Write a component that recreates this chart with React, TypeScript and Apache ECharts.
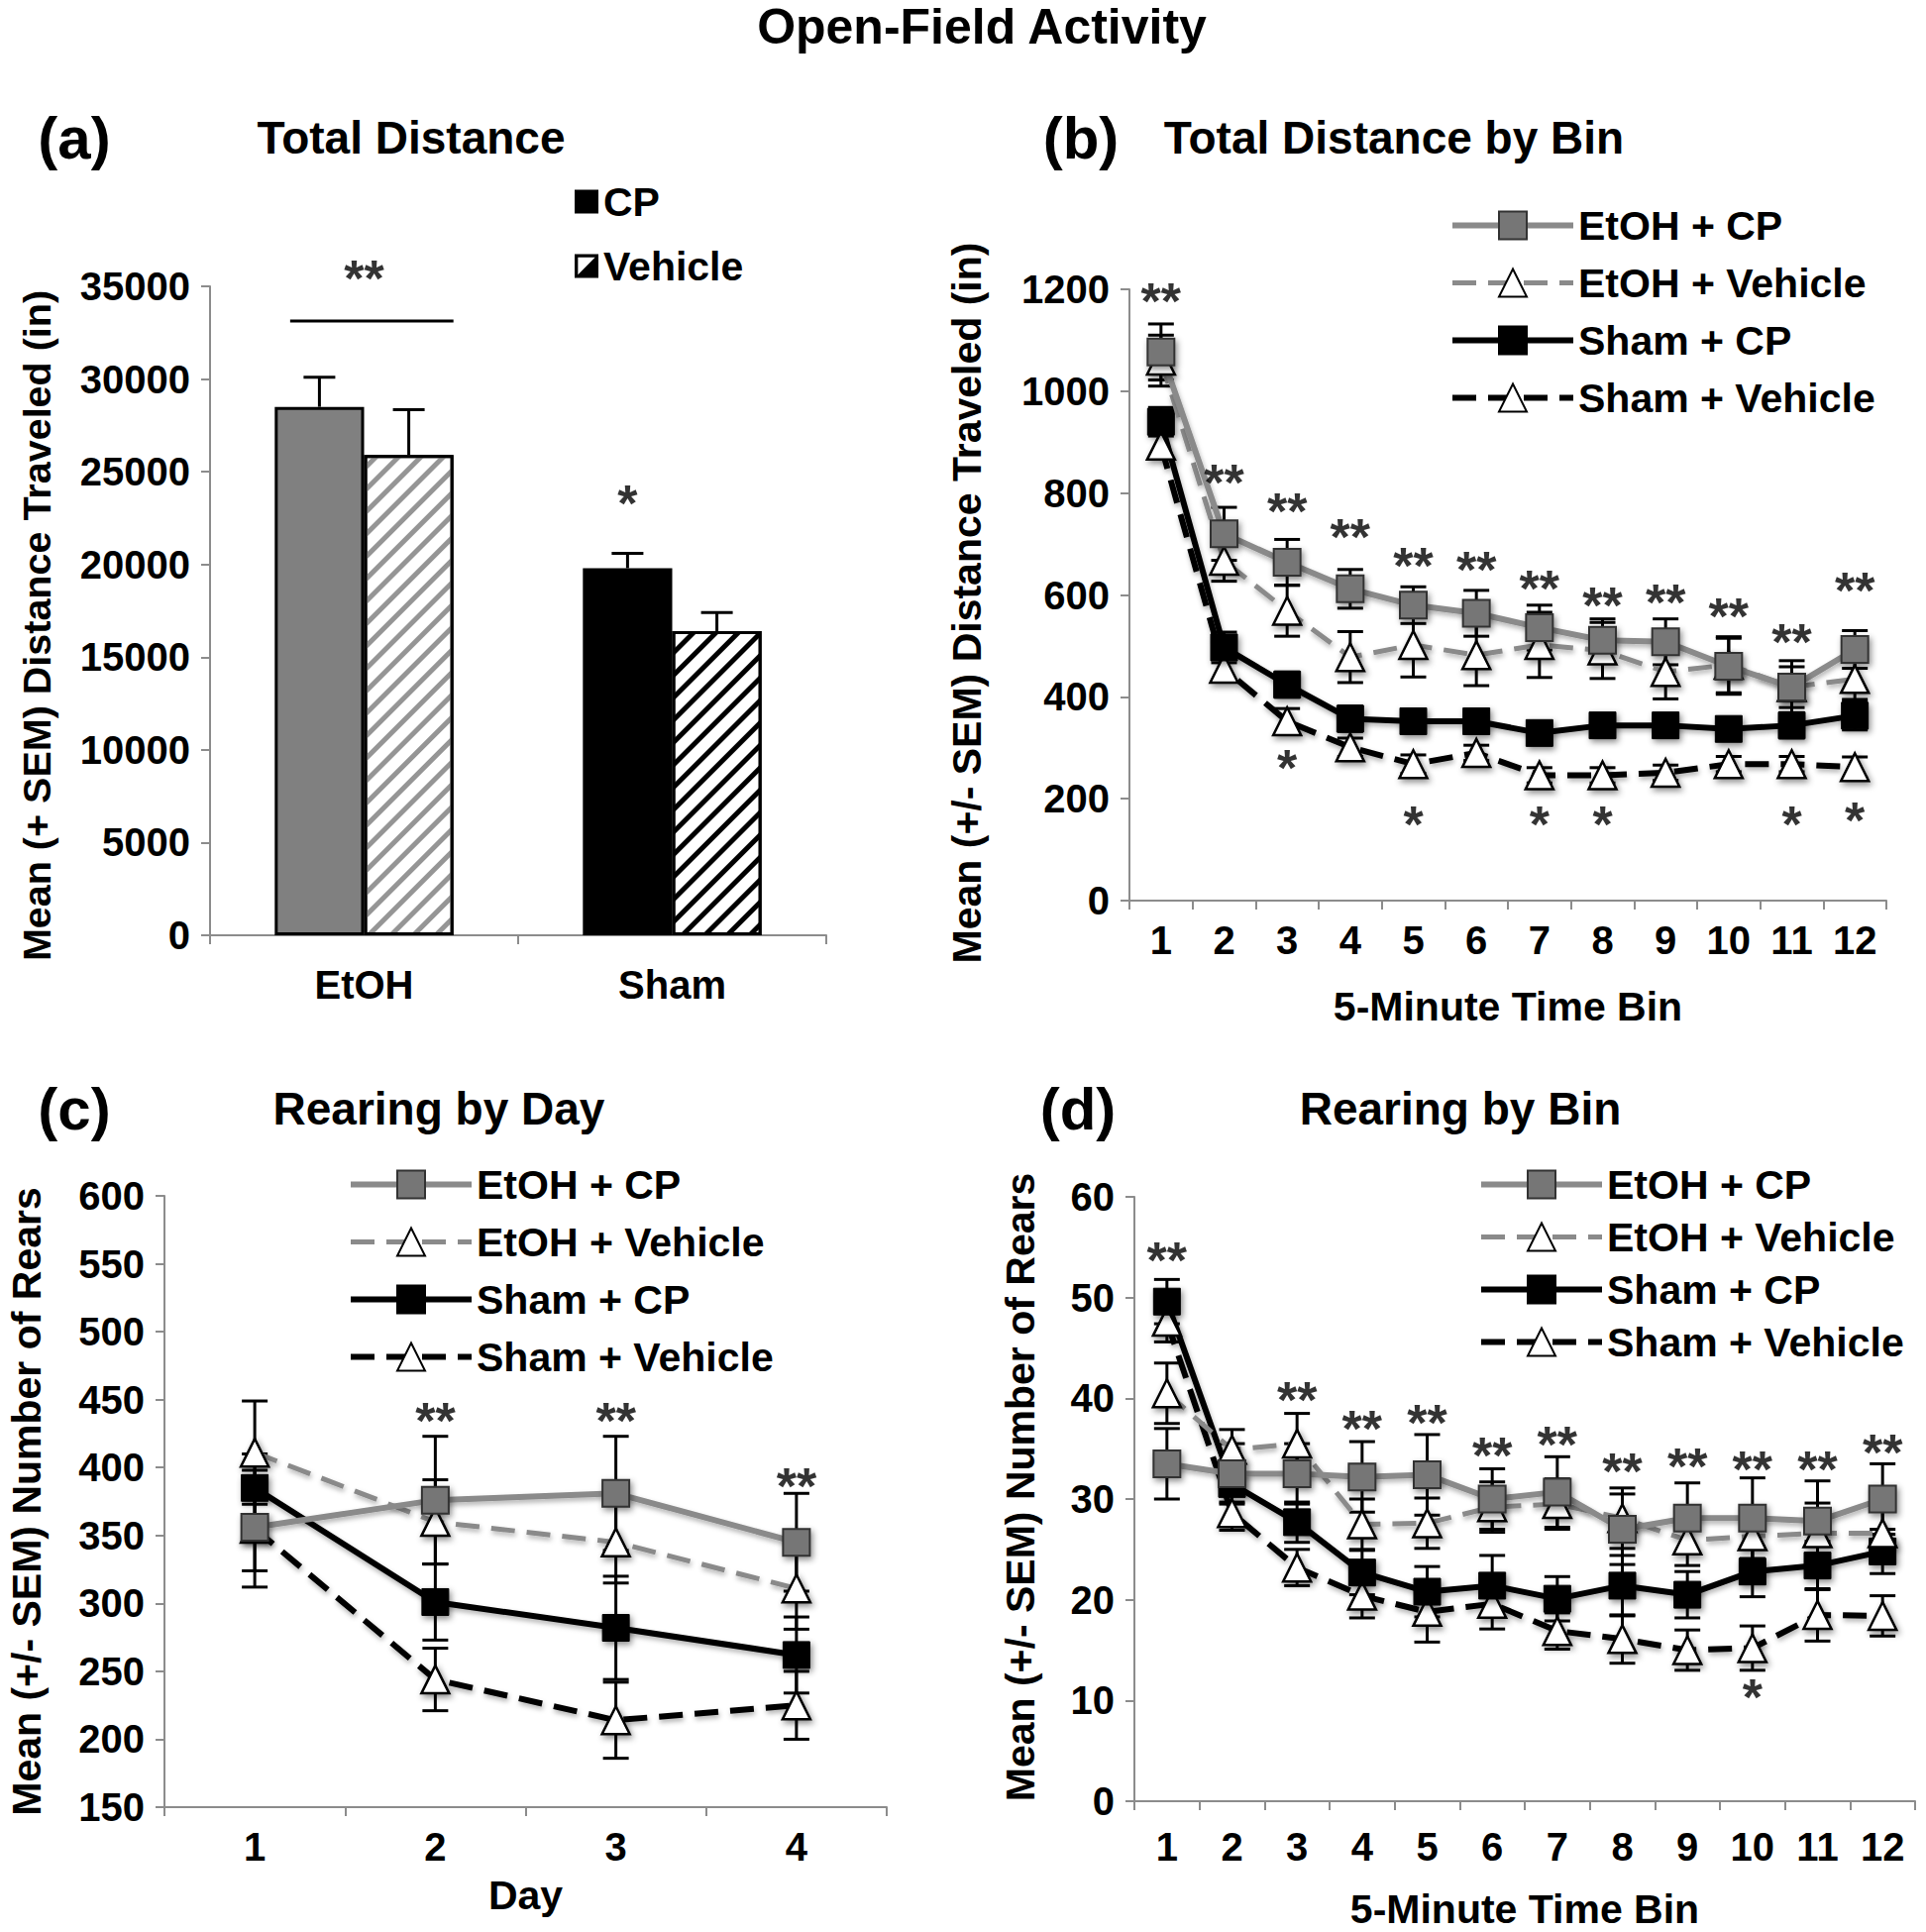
import React, { useEffect, useRef } from 'react';
import * as echarts from 'echarts';

const FONT = "'Liberation Sans', Arial, Helvetica, sans-serif";

// ---------- Panel (a): Total Distance ----------
const groupsA = ['EtOH', 'Sham'];
const cpMeanA = [28500, 19800];
const cpSemA = [1600, 800];
const vehMeanA = [25900, 16400];
const vehSemA = [2450, 1000];
const sigLineA: [number, number][] = [[-0.24, 33130], [0.29, 33130]];
const starsATop: [number, number][] = [[0, 35750]];
const starsASham: [number, number][] = [[0.855, 23620]];

// ---------- Panel (b): Total Distance by Bin ----------
const bins = ['1', '2', '3', '4', '5', '6', '7', '8', '9', '10', '11', '12'];
const bEtohCp = [1077, 720, 664, 612, 580, 564, 536, 511, 508, 460, 419, 493];
const bEtohCpSem = [55, 52, 45, 38, 36, 45, 44, 42, 45, 55, 52, 37];
const bEtohVeh = [1060, 667, 569, 478, 502, 482, 502, 491, 449, 463, 419, 435];
const bEtohVehSem = [50, 40, 50, 50, 63, 60, 64, 55, 53, 55, 40, 40];
const bShamCp = [940, 497, 424, 357, 352, 352, 329, 344, 344, 337, 344, 363];
const bShamCpSem = [28, 30, 25, 25, 22, 22, 20, 22, 22, 22, 25, 28];
const bShamVeh = [893, 455, 352, 301, 268, 290, 246, 246, 251, 268, 268, 262];
const bShamVehSem = [25, 25, 25, 18, 18, 15, 15, 15, 15, 15, 15, 20];
const starsBTop: [number, number][] = [[0, 1189], [1, 832], [2, 776], [3, 726], [4, 670], [5, 661], [6, 625], [7, 592], [8, 597], [9, 569], [10, 519], [11, 620]];
const starsBBottom: [number, number][] = [[2, 273], [4, 162], [6, 162], [7, 162], [10, 162], [11, 170]];

// ---------- Panel (c): Rearing by Day ----------
const days = ['1', '2', '3', '4'];
const cEtohCp = [356, 376, 381, 345];
const cEtohCpSem = [32, 47, 42, 36];
const cEtohVeh = [411, 360, 345, 311];
const cEtohVehSem = [38, 31, 30, 30];
const cShamCp = [385, 301, 282, 262];
const cShamCpSem = [25, 28, 38, 28];
const cShamVeh = [355, 244, 214, 225];
const cShamVehSem = [43, 23, 28, 25];
const starsC: [number, number][] = [[1, 439], [2, 439], [3, 391]];

// ---------- Panel (d): Rearing by Bin ----------
const dEtohCp = [33.5, 32.5, 32.5, 32.2, 32.4, 30.0, 30.7, 27.0, 28.1, 28.1, 27.8, 30.0];
const dEtohCpSem = [3.5, 3, 3, 3.5, 4, 3, 3.5, 3.5, 3.5, 4, 4, 3.5];
const dEtohVeh = [40.5, 34.9, 35.5, 27.5, 27.6, 29.2, 29.5, 28.1, 25.9, 26.3, 26.6, 26.6];
const dEtohVehSem = [3, 2, 3, 2.5, 2.5, 2.5, 2.5, 3, 2.5, 2.5, 3, 2.5];
const dShamCp = [49.6, 31.5, 27.7, 22.7, 20.8, 21.4, 20.1, 21.4, 20.5, 22.8, 23.4, 24.8];
const dShamCpSem = [2.2, 1.8, 2, 2.2, 2.5, 3, 2.2, 3, 2.3, 2.5, 2.4, 2.2];
const dShamVeh = [47.6, 28.6, 23.2, 20.4, 18.8, 19.6, 16.9, 16.1, 15.0, 15.2, 18.5, 18.4];
const dShamVehSem = [2, 1.7, 1.8, 2.2, 3, 2.5, 1.8, 2.4, 2, 2.2, 2.6, 2];
const starsDTop: [number, number][] = [[0, 54.3], [2, 40.4], [3, 37.6], [4, 38.2], [5, 34.9], [6, 36.0], [7, 33.3], [8, 33.8], [9, 33.5], [10, 33.5], [11, 35.2]];
const starsDBottom: [number, number][] = [[9, 10.9]];

const legendNames = ['EtOH + CP', 'EtOH + Vehicle', 'Sham + CP', 'Sham + Vehicle'];

const GRAY_LINE = '#8a8a8a';
const AXIS_COLOR = '#8c8c8c';
const NAME_SIZE = 41;
const TICK_SIZE = 40;
const LEGEND_SIZE = 41;
const STAR_SIZE = 52;

const txt = (size: number) => ({ color: '#000', fontFamily: FONT, fontWeight: 'bold' as const, fontSize: size });

function errorRender(offsetFrac: number, capHalf: number, upOnly: boolean) {
  return (params: any, api: any) => {
    const idx = api.value(0);
    const lo = api.value(1);
    const hi = api.value(2);
    const w = api.size([1, 0])[0];
    const pHi = api.coord([idx, hi]);
    const pLo = api.coord([idx, lo]);
    const x = pHi[0] + offsetFrac * w;
    const style = { stroke: '#000', lineWidth: 3 };
    const children: any[] = [
      { type: 'line', shape: { x1: x, y1: pHi[1], x2: x, y2: pLo[1] }, style },
      { type: 'line', shape: { x1: x - capHalf, y1: pHi[1], x2: x + capHalf, y2: pHi[1] }, style },
    ];
    if (!upOnly) children.push({ type: 'line', shape: { x1: x - capHalf, y1: pLo[1], x2: x + capHalf, y2: pLo[1] }, style });
    return { type: 'group', children };
  };
}

function errData(means: number[], sems: number[], upOnly = false) {
  return means.map((m, i) => [i, upOnly ? m : m - sems[i], m + sems[i]]);
}

function errSeries(name: string, xi: number, yi: number, means: number[], sems: number[], cap = 13) {
  return {
    type: 'custom', name, xAxisIndex: xi, yAxisIndex: yi, z: 3,
    renderItem: errorRender(0, cap, false),
    encode: { x: 0, y: [1, 2] },
    data: errData(means, sems),
    silent: true,
  };
}

const shadowItem = { shadowBlur: 6, shadowColor: 'rgba(0,0,0,0.45)', shadowOffsetX: 2, shadowOffsetY: 3 };
const shadowLine = { shadowBlur: 5, shadowColor: 'rgba(0,0,0,0.3)', shadowOffsetX: 1, shadowOffsetY: 3 };

const styles: Record<string, any> = {
  'EtOH + CP': { symbol: 'rect', symbolSize: 27, itemStyle: { color: '#767676', borderColor: '#333', borderWidth: 2, ...shadowItem }, lineStyle: { color: GRAY_LINE, width: 6, ...shadowLine } },
  'EtOH + Vehicle': { symbol: 'triangle', symbolSize: 28, itemStyle: { color: '#fff', borderColor: '#000', borderWidth: 2.5, ...shadowItem }, lineStyle: { color: GRAY_LINE, width: 5, type: [24, 12], ...shadowLine } },
  'Sham + CP': { symbol: 'rect', symbolSize: 27, itemStyle: { color: '#000', borderColor: '#000', borderWidth: 1, ...shadowItem }, lineStyle: { color: '#000', width: 6, ...shadowLine } },
  'Sham + Vehicle': { symbol: 'triangle', symbolSize: 28, itemStyle: { color: '#fff', borderColor: '#000', borderWidth: 2.5, ...shadowItem }, lineStyle: { color: '#000', width: 6, type: [24, 12], ...shadowLine } },
};

function lineSeries(name: string, xi: number, yi: number, data: number[], z: number) {
  return { type: 'line', name, xAxisIndex: xi, yAxisIndex: yi, data, z, ...styles[name], emphasis: { disabled: true } };
}

function starSeries(name: string, xi: number, yi: number, pts: [number, number][], text: string) {
  return {
    type: 'scatter', name, xAxisIndex: xi, yAxisIndex: yi, data: pts, symbolSize: 1, clip: false, z: 6,
    itemStyle: { color: 'rgba(0,0,0,0)' }, silent: true,
    label: { show: true, position: 'inside', formatter: text, offset: [0, 6], ...txt(STAR_SIZE) },
  };
}

function axisBase() {
  return {
    axisLine: { show: true, onZero: false, lineStyle: { color: AXIS_COLOR, width: 2 } },
    axisTick: { show: true, length: 9, lineStyle: { color: AXIS_COLOR, width: 2 } },
    splitLine: { show: false },
  };
}

const plainNum = (v: number) => String(v);

function lineLegend(left: number, top: number, gap: number) {
  return {
    orient: 'vertical', left, top, itemWidth: 122, itemHeight: 35, itemGap: gap, padding: 0,
    data: legendNames, textStyle: txt(LEGEND_SIZE), selectedMode: false,
    lineStyle: { width: 'inherit' },
  };
}

const vehIcon = 'path://M0,0H10V10H0Z M1.4,1.4V8.6H8.6V1.4Z M1.4,8.6L8.6,1.4V8.6Z';

function buildOption(): any {
  const titleDefs: [string, number, number, number][] = [
    ['Open-Field Activity', 991, 27, 50],
    ['(a)', 75, 139, 60], ['Total Distance', 415, 139, 46],
    ['(b)', 1091, 139, 60], ['Total Distance by Bin', 1407, 139, 46],
    ['(c)', 75, 1119, 60], ['Rearing by Day', 443, 1119, 46],
    ['(d)', 1088, 1119, 60], ['Rearing by Bin', 1474, 1119, 46],
  ];
  const title = titleDefs.map(([text, x, y, s]) => ({
    text, left: x, top: y, textAlign: 'center', textVerticalAlign: 'middle', padding: 0, textStyle: txt(s),
  }));

  const grid = [
    { left: 212, top: 289, width: 622, height: 655 },
    { left: 1140, top: 292, width: 764, height: 617 },
    { left: 166, top: 1207, width: 729, height: 617 },
    { left: 1145, top: 1208, width: 788, height: 610 },
  ];

  const xAxis = [
    { type: 'category', gridIndex: 0, data: groupsA, ...axisBase(), axisLabel: { ...txt(TICK_SIZE), margin: 30 } },
    { type: 'value', gridIndex: 0, min: -0.5, max: 1.5, show: false },
    { type: 'category', gridIndex: 1, data: bins, ...axisBase(), axisLabel: { ...txt(TICK_SIZE), margin: 20 }, name: '5-Minute Time Bin', nameLocation: 'middle', nameGap: 86, nameTextStyle: txt(NAME_SIZE) },
    { type: 'category', gridIndex: 2, data: days, ...axisBase(), axisLabel: { ...txt(TICK_SIZE), margin: 20 }, name: 'Day', nameLocation: 'middle', nameGap: 68, nameTextStyle: txt(NAME_SIZE) },
    { type: 'category', gridIndex: 3, data: bins, ...axisBase(), axisLabel: { ...txt(TICK_SIZE), margin: 26 }, name: '5-Minute Time Bin', nameLocation: 'middle', nameGap: 88, nameTextStyle: txt(NAME_SIZE) },
  ];

  const yAxis = [
    { type: 'value', gridIndex: 0, min: 0, max: 35000, interval: 5000, ...axisBase(), axisLabel: { ...txt(TICK_SIZE), margin: 20, formatter: plainNum }, name: 'Mean (+ SEM) Distance Traveled (in)', nameLocation: 'middle', nameGap: 155, nameTextStyle: { ...txt(39.5), padding: [0, 30, 0, 0] } },
    { type: 'value', gridIndex: 1, min: 0, max: 1200, interval: 200, ...axisBase(), axisLabel: { ...txt(TICK_SIZE), margin: 20, formatter: plainNum }, name: 'Mean (+/- SEM) Distance Traveled (in)', nameLocation: 'middle', nameGap: 144, nameTextStyle: { ...txt(NAME_SIZE), padding: [0, 16, 0, 0] } },
    { type: 'value', gridIndex: 2, min: 150, max: 600, interval: 50, ...axisBase(), axisLabel: { ...txt(TICK_SIZE), margin: 20, formatter: plainNum }, name: 'Mean (+/- SEM) Number of Rears', nameLocation: 'middle', nameGap: 119, nameTextStyle: txt(NAME_SIZE) },
    { type: 'value', gridIndex: 3, min: 0, max: 60, interval: 10, ...axisBase(), axisLabel: { ...txt(TICK_SIZE), margin: 20, formatter: plainNum }, name: 'Mean (+/- SEM) Number of Rears', nameLocation: 'middle', nameGap: 95, nameTextStyle: { ...txt(NAME_SIZE), padding: [0, 0, 0, 24] } },
  ];

  const hatch = (c: string) => ({
    color: c, symbol: 'rect', symbolSize: 1, dashArrayX: [1, 0], dashArrayY: [5, 11], rotation: -Math.PI / 4,
  });

  const series: any[] = [
    // Panel (a) bars
    {
      type: 'bar', name: 'CP', xAxisIndex: 0, yAxisIndex: 0, barWidth: '29%', barGap: '0%',
      itemStyle: { color: '#000', borderColor: '#000', borderWidth: 3 },
      data: cpMeanA.map((v, i) => ({ value: v, itemStyle: { color: i === 0 ? '#808080' : '#000' } })),
      emphasis: { disabled: true },
    },
    {
      type: 'bar', name: 'Vehicle', xAxisIndex: 0, yAxisIndex: 0, barWidth: '29%', barGap: '0%',
      itemStyle: { color: '#fff', borderColor: '#000', borderWidth: 3 },
      data: vehMeanA.map((v, i) => ({ value: v, itemStyle: { color: '#fff', decal: hatch(i === 0 ? '#959595' : '#000') } })),
      emphasis: { disabled: true },
    },
    {
      type: 'custom', name: 'errA_cp', xAxisIndex: 0, yAxisIndex: 0, z: 3, silent: true,
      renderItem: errorRender(-0.145, 16, true), encode: { x: 0, y: [1, 2] }, data: errData(cpMeanA, cpSemA, true),
    },
    {
      type: 'custom', name: 'errA_veh', xAxisIndex: 0, yAxisIndex: 0, z: 3, silent: true,
      renderItem: errorRender(0.145, 16, true), encode: { x: 0, y: [1, 2] }, data: errData(vehMeanA, vehSemA, true),
    },
    {
      type: 'line', name: 'sigA', xAxisIndex: 1, yAxisIndex: 0, data: sigLineA, symbol: 'none',
      lineStyle: { color: '#000', width: 3 }, silent: true, clip: false,
    },
    starSeries('starsATop', 1, 0, starsATop, '**'),
    starSeries('starsASham', 1, 0, starsASham, '*'),

    // Panel (b)
    errSeries('errB1', 2, 1, bEtohCp, bEtohCpSem),
    errSeries('errB2', 2, 1, bEtohVeh, bEtohVehSem),
    errSeries('errB3', 2, 1, bShamCp, bShamCpSem),
    errSeries('errB4', 2, 1, bShamVeh, bShamVehSem),
    lineSeries('Sham + Vehicle', 2, 1, bShamVeh, 4),
    lineSeries('Sham + CP', 2, 1, bShamCp, 4),
    lineSeries('EtOH + Vehicle', 2, 1, bEtohVeh, 5),
    lineSeries('EtOH + CP', 2, 1, bEtohCp, 5),
    starSeries('starsBTop', 2, 1, starsBTop, '**'),
    starSeries('starsBBottom', 2, 1, starsBBottom, '*'),

    // Panel (c)
    errSeries('errC1', 3, 2, cEtohCp, cEtohCpSem),
    errSeries('errC2', 3, 2, cEtohVeh, cEtohVehSem),
    errSeries('errC3', 3, 2, cShamCp, cShamCpSem),
    errSeries('errC4', 3, 2, cShamVeh, cShamVehSem),
    lineSeries('Sham + Vehicle', 3, 2, cShamVeh, 4),
    lineSeries('Sham + CP', 3, 2, cShamCp, 4),
    lineSeries('EtOH + Vehicle', 3, 2, cEtohVeh, 5),
    lineSeries('EtOH + CP', 3, 2, cEtohCp, 5),
    starSeries('starsC', 3, 2, starsC, '**'),

    // Panel (d)
    errSeries('errD1', 4, 3, dEtohCp, dEtohCpSem),
    errSeries('errD2', 4, 3, dEtohVeh, dEtohVehSem),
    errSeries('errD3', 4, 3, dShamCp, dShamCpSem),
    errSeries('errD4', 4, 3, dShamVeh, dShamVehSem),
    lineSeries('Sham + Vehicle', 4, 3, dShamVeh, 4),
    lineSeries('Sham + CP', 4, 3, dShamCp, 4),
    lineSeries('EtOH + Vehicle', 4, 3, dEtohVeh, 5),
    lineSeries('EtOH + CP', 4, 3, dEtohCp, 5),
    starSeries('starsDTop', 4, 3, starsDTop, '**'),
    starSeries('starsDBottom', 4, 3, starsDBottom, '*'),
  ];

  const legend = [
    {
      orient: 'vertical', left: 580, top: 183, itemWidth: 24, itemHeight: 24, itemGap: 24, padding: 0,
      selectedMode: false, textStyle: txt(LEGEND_SIZE), itemStyle: { borderWidth: 0 },
      data: [
        { name: 'CP', icon: 'rect', itemStyle: { color: '#000' } },
        { name: 'Vehicle', icon: vehIcon, itemStyle: { color: '#000', borderWidth: 0, decal: 'none' } },
      ],
    },
    lineLegend(1463, 207, 17),
    lineLegend(351, 1175, 17),
    lineLegend(1492, 1175, 12),
  ];

  return {
    animation: false,
    backgroundColor: '#fff',
    title, grid, xAxis, yAxis, series, legend,
  };
}

export default function App() {
  const ref = useRef<HTMLDivElement>(null);
  useEffect(() => {
    document.body.style.margin = '0';
    if (!ref.current) return;
    const chart = echarts.init(ref.current, undefined, { renderer: 'svg' });
    chart.setOption(buildOption());
    return () => chart.dispose();
  }, []);
  return <div ref={ref} style={{ width: 1944, height: 1950 }} />;
}
